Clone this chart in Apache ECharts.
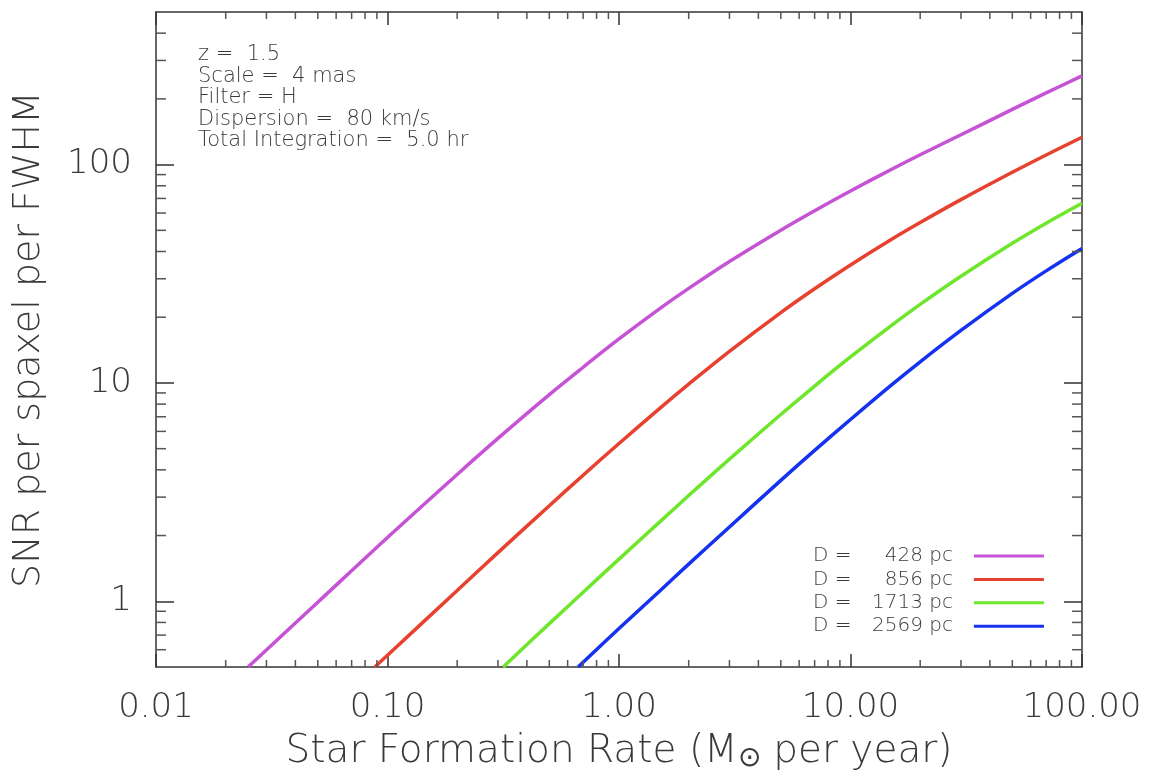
<!DOCTYPE html>
<html>
<head>
<meta charset="utf-8">
<script src="https://cdn.jsdelivr.net/npm/echarts@6/dist/echarts.min.js"></script>
<style>
html,body{margin:0;padding:0;background:#fff;}
#chart{width:1151px;height:778px;}
</style>
</head>
<body>
<div id="chart"></div>
<script>
// ---- data ----
const distances = [428, 856, 1713, 2569];
const colors = ['#c653d6', '#e8412f', '#6ee62a', '#1432f0'];

const sfrPurple = [0.025, 0.05, 0.1, 0.2, 0.3, 0.5, 0.7, 1, 1.5, 2, 3, 5, 7, 10, 15, 20, 30, 50, 70, 100];
const snrPurple = [0.5, 0.99, 1.96, 3.81, 5.57, 8.84, 11.8, 15.9, 21.9, 27.1, 36.0, 50.1, 61.5, 75.7, 95, 111, 137, 179, 213, 255];

const sfrRed = [0.0882, 0.1, 0.2, 0.3, 0.5, 0.7, 1, 1.5, 2, 3, 5, 7, 10, 15, 20, 30, 50, 70, 100];
const snrRed = [0.5, 0.566, 1.12, 1.67, 2.74, 3.78, 5.28, 7.65, 9.87, 13.95, 21.0, 27.0, 34.7, 45.4, 54.3, 69.1, 92.2, 110.7, 133.5];

const sfrGreen = [0.316, 0.5, 0.7, 1, 1.5, 2, 3, 5, 7, 10, 15, 20, 30, 50, 70, 100];
const snrGreen = [0.5, 0.79, 1.1, 1.56, 2.31, 3.05, 4.48, 7.17, 9.68, 13.15, 18.3, 22.9, 30.8, 43.6, 53.9, 66.5];

const sfrBlue = [0.666, 1, 1.5, 2, 3, 5, 7, 10, 15, 20, 30, 50, 70, 100];
const snrBlue = [0.5, 0.75, 1.115, 1.48, 2.19, 3.58, 4.91, 6.8, 9.77, 12.5, 17.4, 25.7, 32.6, 41.3];

const xMajorTicks = [0.01, 0.1, 1, 10, 100];
const yMajorTicks = [1, 10, 100];
const xMinorTicks = [0.02,0.03,0.04,0.05,0.06,0.07,0.08,0.09, 0.2,0.3,0.4,0.5,0.6,0.7,0.8,0.9, 2,3,4,5,6,7,8,9, 20,30,40,50,60,70,80,90];
const yMinorTicks = [0.6,0.7,0.8,0.9, 2,3,4,5,6,7,8,9, 20,30,40,50,60,70,80,90, 200,300,400];

const infoLines = ['z =  1.5', 'Scale =  4 mas', 'Filter = H', 'Dispersion =  80 km/s', 'Total Integration =  5.0 hr'];
const xTitle = 'Star Formation Rate (M';
const xTitleSub = '⊙';
const xTitleEnd = ' per year)';
const yTitle = 'SNR per spaxel per FWHM';

// ---- chart ----
const FONT = "'DejaVu Sans', sans-serif";
const TXT = '#3a3a3a';
const chart = echarts.init(document.getElementById('chart'), null, {renderer: 'canvas'});

const curves = [[sfrPurple, snrPurple], [sfrRed, snrRed], [sfrGreen, snrGreen], [sfrBlue, snrBlue]];
const lineSeries = curves.map((c, i) => ({
  name: 'D = ' + distances[i] + ' pc',
  type: 'line',
  data: c[0].map((x, j) => [x, c[1][j]]),
  showSymbol: false,
  smooth: 0.35,
  clip: true,
  lineStyle: {color: colors[i], width: 3.5},
  itemStyle: {color: colors[i]},
  z: 3
}));

function tickSeries(values, isX, len) {
  return {
    type: 'custom',
    silent: true,
    clip: false,
    z: 4,
    data: values.map(v => isX ? [v, 1] : [1, v]),
    renderItem: function (params, api) {
      const cs = params.coordSys;
      const p = api.coord([api.value(0), api.value(1)]);
      const st = {stroke: '#555', lineWidth: 1.5};
      if (isX) {
        return {type: 'group', children: [
          {type: 'line', shape: {x1: p[0], y1: cs.y + cs.height, x2: p[0], y2: cs.y + cs.height - len}, style: st},
          {type: 'line', shape: {x1: p[0], y1: cs.y, x2: p[0], y2: cs.y + len}, style: st}
        ]};
      }
      return {type: 'group', children: [
        {type: 'line', shape: {x1: cs.x, y1: p[1], x2: cs.x + len, y2: p[1]}, style: st},
        {type: 'line', shape: {x1: cs.x + cs.width, y1: p[1], x2: cs.x + cs.width - len, y2: p[1]}, style: st}
      ]};
    }
  };
}

const axisLine = {show: true, onZero: false, lineStyle: {color: '#666', width: 2}};

const option = {
  animation: false,
  backgroundColor: '#fff',
  title: {
    text: infoLines.join('\n'),
    left: 198, top: 44, padding: 0,
    textStyle: {fontFamily: FONT, fontWeight: 200, fontSize: 21, lineHeight: 21.5, color: TXT}
  },
  legend: {
    data: lineSeries.map(s => s.name),
    orient: 'vertical',
    align: 'right',
    left: 813, top: 546,
    padding: 0,
    itemGap: 3.4,
    itemWidth: 70, itemHeight: 3,
    icon: 'rect',
    selectedMode: false,
    formatter: function (name) {
      const d = name.replace('D = ', '').replace(' pc', '');
      return '{a|D =}{b|' + d.padStart(4, '\u2007') + '}{c| pc}';
    },
    textStyle: {
      fontFamily: FONT, fontWeight: 200, fontSize: 20, color: TXT, lineHeight: 20,
      rich: {
        a: {fontFamily: FONT, fontWeight: 200, fontSize: 20, color: TXT, width: 59, align: 'left'},
        b: {fontFamily: FONT, fontWeight: 200, fontSize: 20, color: TXT, align: 'left'},
        c: {fontFamily: FONT, fontWeight: 200, fontSize: 20, color: TXT, width: 46, align: 'left'}
      }
    }
  },
  grid: {left: 156, top: 12, right: 69, bottom: 111, containLabel: false},
  xAxis: [
    {
      type: 'log', logBase: 10, min: 0.01, max: 100, position: 'bottom',
      axisLine: axisLine,
      axisTick: {show: true, inside: true, length: 13, customValues: xMajorTicks, lineStyle: {color: '#333', width: 1.5}},
      axisLabel: {
        show: true, margin: 24, customValues: xMajorTicks,
        fontFamily: FONT, fontWeight: 200, fontSize: 34, color: TXT,
        formatter: v => Number(v).toFixed(2)
      },
      splitLine: {show: false},
      name: '{n|' + xTitle + '}{s|' + xTitleSub + '}{n|' + xTitleEnd + '}',
      nameLocation: 'middle', nameGap: 64,
      nameTextStyle: {
        fontFamily: FONT, fontWeight: 200, fontSize: 39, color: TXT, lineHeight: 42,
        rich: {
          n: {fontFamily: FONT, fontWeight: 200, fontSize: 39, color: TXT, lineHeight: 42},
          s: {fontFamily: FONT, fontWeight: 200, fontSize: 28, color: TXT, lineHeight: 42, padding: [14, 0, 0, 0]}
        }
      }
    },
    {
      type: 'log', logBase: 10, min: 0.01, max: 100, position: 'top',
      axisLine: axisLine,
      axisTick: {show: true, inside: true, length: 13, customValues: xMajorTicks, lineStyle: {color: '#333', width: 1.5}},
      axisLabel: {show: false},
      splitLine: {show: false}
    }
  ],
  yAxis: [
    {
      type: 'log', logBase: 10, min: 0.5, max: 500, position: 'left',
      axisLine: axisLine,
      axisTick: {show: true, inside: true, length: 18, customValues: yMajorTicks, lineStyle: {color: '#333', width: 1.5}},
      axisLabel: {
        show: true, margin: 24, customValues: yMajorTicks,
        fontFamily: FONT, fontWeight: 200, fontSize: 34, color: TXT,
        formatter: v => String(Math.round(v))
      },
      splitLine: {show: false},
      name: yTitle,
      nameLocation: 'middle', nameGap: 106,
      nameTextStyle: {fontFamily: FONT, fontWeight: 200, fontSize: 38, color: TXT, lineHeight: 42}
    },
    {
      type: 'log', logBase: 10, min: 0.5, max: 500, position: 'right',
      axisLine: axisLine,
      axisTick: {show: true, inside: true, length: 18, customValues: yMajorTicks, lineStyle: {color: '#333', width: 1.5}},
      axisLabel: {show: false},
      splitLine: {show: false}
    }
  ],
  series: lineSeries.concat([
    tickSeries(xMinorTicks, true, 7),
    tickSeries(yMinorTicks, false, 10)
  ])
};
chart.setOption(option);
</script>
</body>
</html>
